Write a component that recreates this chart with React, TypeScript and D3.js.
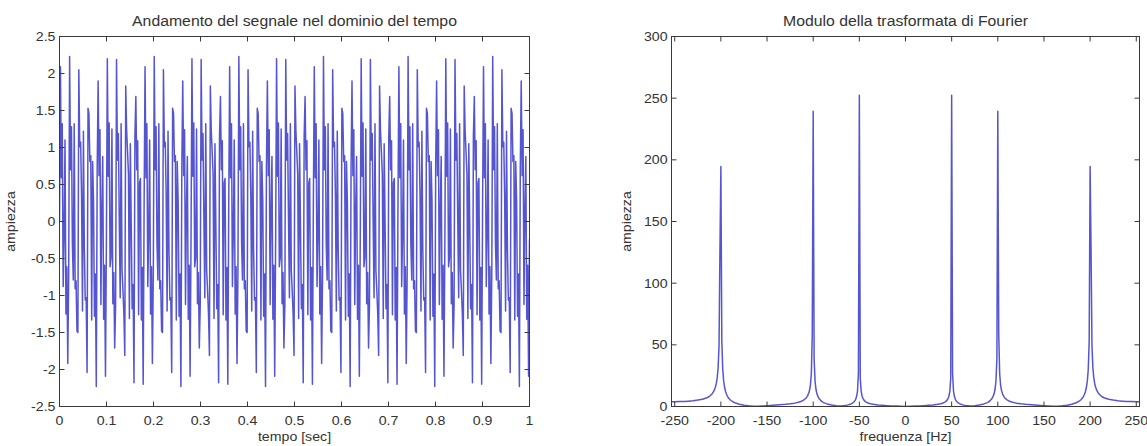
import React from "react";
import * as d3 from "d3";

// ---------- data ----------
const timeTicks = [0, 0.1, 0.2, 0.3, 0.4, 0.5, 0.6, 0.7, 0.8, 0.9, 1];
const timeTickLabels = ["0", "0.1", "0.2", "0.3", "0.4", "0.5", "0.6", "0.7", "0.8", "0.9", "1"];
const ampTicks = [-2.5, -2, -1.5, -1, -0.5, 0, 0.5, 1, 1.5, 2, 2.5];
const ampTickLabels = ["-2.5", "-2", "-1.5", "-1", "-0.5", "0", "0.5", "1", "1.5", "2", "2.5"];
const freqTicks = [-250, -200, -150, -100, -50, 0, 50, 100, 150, 200, 250];
const freqTickLabels = ["-250", "-200", "-150", "-100", "-50", "0", "50", "100", "150", "200", "250"];
const magTicks = [0, 50, 100, 150, 200, 250, 300];
const magTickLabels = ["0", "50", "100", "150", "200", "250", "300"];

// signal samples, t from 0 to 1 s (512 samples)
const signal = [
  0, 2.09, 0.59, 1.32, -0.88, -0.17, 1.1, -1.25, -0.61, -1.92, -0.7, 2.23, 0.7, 1.28, -0.3, -0.79, 1.32, -0.91, -0.8, -1.48, -1.5, 2.05, 1.01, 1.07, 0.34, -1.21, 1.22, -0.37, -1.06, -1.03, -2.04, 1.53, 1.46, 0.81, 0.89, -1.33, 0.81, 0.27, -1.28, -0.71, -2.23, 0.74, 1.9, 0.62, 1.24, -1.12,
  0.17, 0.88, -1.32, -0.59, -2.09, -0.24, 2.2, 0.61, 1.33, -0.61, -0.49, 1.25, -1.11, -0.69, -1.71, -1.13, 2.19, 0.83, 1.19, 0.02, -1.03, 1.32, -0.66, -0.93, -1.25, -1.81, 1.83, 1.23, 0.94, 0.64, -1.31, 1.05, -0.05, -1.18, -0.85, -2.18, 1.16, 1.69, 0.7, 1.09, -1.26, 0.52, 0.58, -1.33, -0.62, -2.2,
  0.24, 2.09, 0.59, 1.32, -0.88, -0.17, 1.1, -1.25, -0.61, -1.92, -0.7, 2.23, 0.7, 1.28, -0.3, -0.79, 1.32, -0.91, -0.8, -1.48, -1.5, 2.05, 1.01, 1.07, 0.34, -1.21, 1.22, -0.37, -1.06, -1.03, -2.04, 1.53, 1.46, 0.81, 0.89, -1.33, 0.81, 0.27, -1.28, -0.71, -2.23, 0.74, 1.9, 0.62, 1.24, -1.12,
  0.17, 0.88, -1.32, -0.59, -2.09, -0.24, 2.2, 0.61, 1.33, -0.61, -0.49, 1.25, -1.11, -0.69, -1.71, -1.13, 2.19, 0.83, 1.19, 0.02, -1.03, 1.32, -0.66, -0.93, -1.25, -1.81, 1.83, 1.23, 0.94, 0.64, -1.31, 1.05, -0.05, -1.18, -0.85, -2.18, 1.16, 1.69, 0.7, 1.09, -1.26, 0.52, 0.58, -1.33, -0.62, -2.2,
  0.24, 2.09, 0.59, 1.32, -0.88, -0.17, 1.1, -1.25, -0.61, -1.92, -0.7, 2.23, 0.7, 1.28, -0.3, -0.79, 1.32, -0.91, -0.8, -1.48, -1.5, 2.05, 1.01, 1.07, 0.34, -1.21, 1.22, -0.37, -1.06, -1.03, -2.04, 1.53, 1.46, 0.81, 0.89, -1.33, 0.81, 0.27, -1.28, -0.71, -2.23, 0.74, 1.9, 0.62, 1.24, -1.12,
  0.17, 0.88, -1.32, -0.59, -2.09, -0.24, 2.2, 0.61, 1.33, -0.61, -0.49, 1.25, -1.11, -0.69, -1.71, -1.13, 2.19, 0.83, 1.19, 0.02, -1.03, 1.32, -0.66, -0.93, -1.25, -1.81, 1.83, 1.23, 0.94, 0.64, -1.31, 1.05, -0.05, -1.18, -0.85, -2.18, 1.16, 1.69, 0.7, 1.09, -1.26, 0.52, 0.58, -1.33, -0.62, -2.2,
  0.24, 2.09, 0.59, 1.32, -0.88, -0.17, 1.1, -1.25, -0.61, -1.92, -0.7, 2.23, 0.7, 1.28, -0.3, -0.79, 1.32, -0.91, -0.8, -1.48, -1.5, 2.05, 1.01, 1.07, 0.34, -1.21, 1.22, -0.37, -1.06, -1.03, -2.04, 1.53, 1.46, 0.81, 0.89, -1.33, 0.81, 0.27, -1.28, -0.71, -2.23, 0.74, 1.9, 0.62, 1.24, -1.12,
  0.17, 0.88, -1.32, -0.59, -2.09, -0.24, 2.2, 0.61, 1.33, -0.61, -0.49, 1.25, -1.11, -0.69, -1.71, -1.13, 2.19, 0.83, 1.19, 0.02, -1.03, 1.32, -0.66, -0.93, -1.25, -1.81, 1.83, 1.23, 0.94, 0.64, -1.31, 1.05, -0.05, -1.18, -0.85, -2.18, 1.16, 1.69, 0.7, 1.09, -1.26, 0.52, 0.58, -1.33, -0.62, -2.2,
  0.24, 2.09, 0.59, 1.32, -0.88, -0.17, 1.1, -1.25, -0.61, -1.92, -0.7, 2.23, 0.7, 1.28, -0.3, -0.79, 1.32, -0.91, -0.8, -1.48, -1.5, 2.05, 1.01, 1.07, 0.34, -1.21, 1.22, -0.37, -1.06, -1.03, -2.04, 1.53, 1.46, 0.81, 0.89, -1.33, 0.81, 0.27, -1.28, -0.71, -2.23, 0.74, 1.9, 0.62, 1.24, -1.12,
  0.17, 0.88, -1.32, -0.59, -2.09, -0.24, 2.2, 0.61, 1.33, -0.61, -0.49, 1.25, -1.11, -0.69, -1.71, -1.13, 2.19, 0.83, 1.19, 0.02, -1.03, 1.32, -0.66, -0.93, -1.25, -1.81, 1.83, 1.23, 0.94, 0.64, -1.31, 1.05, -0.05, -1.18, -0.85, -2.18, 1.16, 1.69, 0.7, 1.09, -1.26, 0.52, 0.58, -1.33, -0.62, -2.2,
  0.24, 2.09, 0.59, 1.32, -0.88, -0.17, 1.1, -1.25, -0.61, -1.92, -0.7, 2.23, 0.7, 1.28, -0.3, -0.79, 1.32, -0.91, -0.8, -1.48, -1.5, 2.05, 1.01, 1.07, 0.34, -1.21, 1.22, -0.37, -1.06, -1.03, -2.04, 1.53, 1.46, 0.81, 0.89, -1.33, 0.81, 0.27, -1.28, -0.71, -2.23, 0.74, 1.9, 0.62, 1.24, -1.12,
  0.17, 0.88, -1.32, -0.59, -2.09, -0.24,
];

// spectrum magnitude vs frequency (Hz)
const specFreq = [
  -255, -250, -245, -240, -235, -230, -225, -220, -215, -212, -210, -209, -208, -207, -206, -205, -204, -203, -202, -201, -200,
  -199, -198, -197, -196, -195, -194, -193, -192, -191, -190, -189, -188, -187, -185, -180, -175, -170, -165, -160, -155, -150,
  -140, -130, -125, -120, -115, -112, -110, -108, -107, -106, -105, -104, -103, -102, -101, -100, -99, -98, -97, -96, -95, -94,
  -93, -92, -91, -90, -89, -88, -85, -80, -75, -70, -65, -62, -60, -59, -58, -57, -56, -55, -54, -53, -52, -51, -50, -49, -48,
  -47, -46, -45, -44, -43, -42, -40, -38, -35, -30, -25, -20, -15, -10, -5,
  0,
  5, 10, 15, 20, 25, 30, 35, 38, 40, 42, 43, 44, 45, 46, 47, 48, 49, 50, 51, 52, 53, 54, 55, 56, 57, 58, 59, 60, 62, 65, 70, 75,
  80, 85, 88, 89, 90, 91, 92, 93, 94, 95, 96, 97, 98, 99, 100, 101, 102, 103, 104, 105, 106, 107, 108, 110, 112, 115, 120, 125,
  130, 140, 150, 155, 160, 165, 170, 175, 180, 185, 187, 188, 189, 190, 191, 192, 193, 194, 195, 196, 197, 198, 199, 200, 201,
  202, 203, 204, 205, 206, 207, 208, 209, 210, 212, 215, 220, 225, 230, 235, 240, 245, 250, 255,
];
const specMag = [
  3.84, 3.88, 3.97, 4.1, 4.35, 4.64, 5.2, 5.88, 7.1, 8.5, 9.9, 10.8, 12.0, 13.5, 15.6, 18.5, 23.2, 31.3, 49.6, 128.0, 194.5,
  53.3, 30.2, 20.75, 15.6, 12.35, 10.1, 8.5, 7.25, 6.3, 5.5, 4.85, 4.3, 3.86, 3.1, 1.85, 1.1, 0.56, 0.25, 0.16, 0.4, 0.69,
  1.18, 1.77, 2.2, 2.73, 3.7, 4.5, 5.4, 6.7, 7.6, 8.8, 10.5, 13.0, 17.4, 26.8, 59.2, 239.4, 38.7, 20.7, 14.0, 10.5, 8.4, 6.9,
  5.8, 5.0, 4.4, 3.75, 3.3, 2.95, 2.11, 1.2, 0.53, 0.4, 0.72, 1.3, 1.75, 2.1, 2.5, 3.0, 3.7, 4.5, 5.8, 8.1, 12.5, 26.9, 252.4, 22.8, 12.1,
  8.3, 6.4, 5.17, 4.36, 3.77, 3.32, 2.67, 2.2, 1.75, 1.27, 0.95, 0.69, 0.48, 0.31, 0.15,
  0.0,
  0.15, 0.31, 0.48, 0.69, 0.95, 1.27, 1.75, 2.2, 2.67, 3.32, 3.77, 4.36, 5.17, 6.4, 8.3, 12.1, 22.8, 252.4, 26.9, 12.5, 8.1, 5.8, 4.5, 3.7, 3.0, 2.5, 2.1, 1.75, 1.3, 0.72, 0.4, 0.53,
  1.2, 2.11, 2.95, 3.3, 3.75, 4.4, 5.0, 5.8, 6.9, 8.4, 10.5, 14.0, 20.7, 38.7, 239.4, 59.2, 26.8, 17.4, 13.0, 10.5, 8.8, 7.6, 6.7, 5.4, 4.5, 3.7, 2.73, 2.2,
  1.77, 1.18, 0.69, 0.4, 0.16, 0.25, 0.56, 1.1, 1.85, 3.1, 3.86, 4.3, 4.85, 5.5, 6.3, 7.25, 8.5, 10.1, 12.35, 15.6, 20.75, 30.2, 53.3, 194.5, 128.0,
  49.6, 31.3, 23.2, 18.5, 15.6, 13.5, 12.0, 10.8, 9.9, 8.5, 7.1, 5.88, 5.2, 4.64, 4.35, 4.1, 3.97, 3.88, 3.84,
];

const titleTime = "Andamento del segnale nel dominio del tempo";
const titleFreq = "Modulo della trasformata di Fourier";
const xLabelTime = "tempo [sec]";
const xLabelFreq = "frequenza [Hz]";
const yLabel = "ampiezza";

// ---------- layout ----------
const W = 1147;
const H = 446;
const FONT = "'Liberation Sans', Arial, Helvetica, sans-serif";
const AX = "#3a3a3a";
const TXT = "#333333";
const LINE = "#1c1cc0";
const TICK = 5;
const SX = 1.09; // horizontal text stretch
const FS = 13;
const FS_TITLE = 14.5;

type TProps = {
  x: number;
  y: number;
  size: number;
  anchor?: "start" | "middle" | "end";
  rotate?: number;
  children: React.ReactNode;
};

function T({ x, y, size, anchor = "middle", rotate = 0, children }: TProps) {
  return (
    <text
      transform={`translate(${x},${y}) rotate(${rotate}) scale(${SX},1)`}
      fontSize={size}
      textAnchor={anchor}
    >
      {children}
    </text>
  );
}

type PanelProps = {
  x: d3.ScaleLinear<number, number>;
  y: d3.ScaleLinear<number, number>;
  xTicks: number[];
  xLabels: string[];
  yTicks: number[];
  yLabels: string[];
  title: string;
  xTitle: string;
  yTitle: string;
  yTitleX: number;
  clipId: string;
  path: string;
};

function Panel(p: PanelProps) {
  const [x0, x1] = p.x.range();
  const [yb, yt] = p.y.range();
  const cx = (x0 + x1) / 2;
  const cy = (yb + yt) / 2;
  return (
    <g fontFamily={FONT} fill={TXT}>
      <defs>
        <clipPath id={p.clipId}>
          <rect x={x0} y={yt} width={x1 - x0} height={yb - yt} />
        </clipPath>
      </defs>
      <path
        d={p.path}
        fill="none"
        stroke={LINE}
        strokeOpacity={0.75}
        strokeWidth={1.5}
        strokeLinejoin="round"
        clipPath={`url(#${p.clipId})`}
      />
      <rect x={x0} y={yt} width={x1 - x0} height={yb - yt} fill="none" stroke={AX} strokeWidth={1} />
      {p.xTicks.map((t, i) => (
        <g key={"x" + i}>
          <line x1={p.x(t)} x2={p.x(t)} y1={yb} y2={yb - TICK} stroke={AX} />
          <line x1={p.x(t)} x2={p.x(t)} y1={yt} y2={yt + TICK} stroke={AX} />
          <T x={p.x(t)} y={yb + 18} size={FS}>
            {p.xLabels[i]}
          </T>
        </g>
      ))}
      {p.yTicks.map((t, i) => (
        <g key={"y" + i}>
          <line x1={x0} x2={x0 + TICK} y1={p.y(t)} y2={p.y(t)} stroke={AX} />
          <line x1={x1} x2={x1 - TICK} y1={p.y(t)} y2={p.y(t)} stroke={AX} />
          <T x={x0 - 4} y={p.y(t) + 4.6} size={FS} anchor="end">
            {p.yLabels[i]}
          </T>
        </g>
      ))}
      <T x={cx} y={26} size={FS_TITLE}>
        {p.title}
      </T>
      <T x={cx} y={yb + 34.5} size={FS}>
        {p.xTitle}
      </T>
      <T x={p.yTitleX} y={cy} size={FS} rotate={-90}>
        {p.yTitle}
      </T>
    </g>
  );
}

export default function App() {
  const xT = d3.scaleLinear().domain([0, 1]).range([59.5, 529.5]);
  const yA = d3.scaleLinear().domain([-2.5, 2.5]).range([406.5, 36.5]);
  const xF = d3.scaleLinear().domain([-253.5, 253.5]).range([671.5, 1139.5]);
  const yM = d3.scaleLinear().domain([0, 300]).range([406.5, 36.5]);

  const n = signal.length;
  const timePath =
    d3
      .line<number>()
      .x((_, i) => xT(i / (n - 1)))
      .y((d) => yA(d))(signal) || "";
  const specPath =
    d3
      .line<number>()
      .x((_, i) => xF(specFreq[i]))
      .y((d) => yM(d))(specMag) || "";

  return (
    <svg
      width={W}
      height={H}
      viewBox={`0 0 ${W} ${H}`}
      style={{ position: "absolute", left: 0, top: 0, background: "#ffffff" }}
    >
      <rect x={0} y={0} width={W} height={H} fill="#ffffff" />
      <Panel
        x={xT}
        y={yA}
        xTicks={timeTicks}
        xLabels={timeTickLabels}
        yTicks={ampTicks}
        yLabels={ampTickLabels}
        title={titleTime}
        xTitle={xLabelTime}
        yTitle={yLabel}
        yTitleX={15}
        clipId="clipTime"
        path={timePath}
      />
      <Panel
        x={xF}
        y={yM}
        xTicks={freqTicks}
        xLabels={freqTickLabels}
        yTicks={magTicks}
        yLabels={magTickLabels}
        title={titleFreq}
        xTitle={xLabelFreq}
        yTitle={yLabel}
        yTitleX={631}
        clipId="clipFreq"
        path={specPath}
      />
    </svg>
  );
}
